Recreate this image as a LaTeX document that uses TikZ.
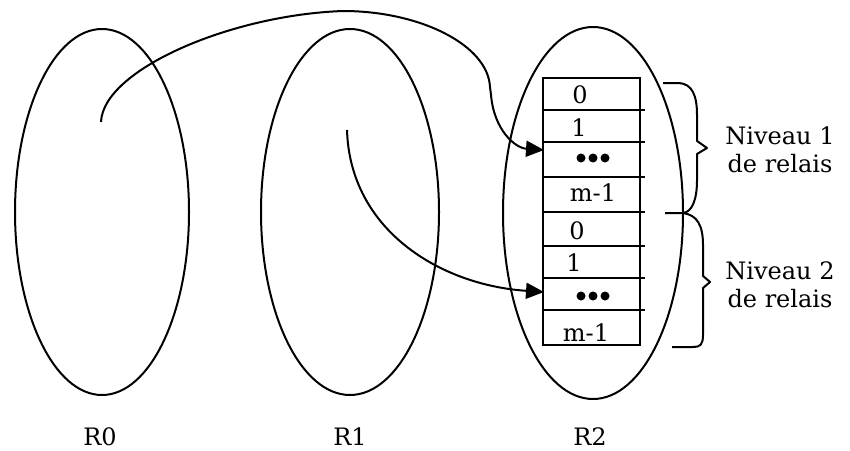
\documentclass[tikz,border=0pt]{standalone}
\usepackage{fontspec}
\setmainfont{DejaVu Serif}
\usetikzlibrary{arrows.meta,shapes.geometric}
\begin{document}
\begin{tikzpicture}[x=1pt,y=-1pt,
  every node/.style={font=\fontsize{24}{28}\selectfont, inner sep=0pt},
  ring/.style={draw, ellipse, line width=2pt, inner sep=0pt},
  tab/.style={line width=2.4pt},
  conn/.style={line width=2pt, line join=round, -{Triangle[length=18pt,width=16pt]}},
  brace/.style={line width=2pt, line join=round},
  dot/.style={fill=black, circle, minimum size=9pt, inner sep=0pt}]
\useasboundingbox (0,0) rectangle (850,450);
% rings
\node[ring, minimum width=174pt, minimum height=366pt] (R0) at (102,212) {};
\node[ring, minimum width=178pt, minimum height=366pt] (R1) at (350,212) {};
\node[ring, minimum width=180pt, minimum height=372pt] (R2) at (593,213) {};
\node (L0) at (100,437) {R0};
\node (L1) at (350,437) {R1};
\node (L2) at (590,437) {R2};
% table
\draw[tab] (543,78) rectangle (640,345);
\foreach \yy in {110,142,177,212,246,278,310}
  \draw[tab] (543,\yy) -- (645,\yy);
\node (a0) at (580,95) {0};
\node (a1) at (579,128) {1};
\node[dot] (a2a) at (581,158) {};
\node[dot] (a2b) at (593,158) {};
\node[dot] (a2c) at (605,158) {};
\node (a3) at (593,193) {m-1};
\node (b0) at (577,231) {0};
\node (b1) at (574,263) {1};
\node[dot] (b2a) at (581,296) {};
\node[dot] (b2b) at (593,296) {};
\node[dot] (b2c) at (605,296) {};
\node (b3) at (586,333) {m-1};
% connectors
\coordinate (s1) at (101,122);
\coordinate (p1) at (343,11);
\coordinate (k1) at (490,87);
\coordinate (k2) at (491,95);
\coordinate (t1) at (544,150);
\coordinate (s2) at (347,130);
\coordinate (t2) at (544,292);
\draw[conn] (s1) .. controls (103,70) and (230,15) .. (p1)
  .. controls (420,11) and (488,45) .. (k1) -- (k2)
  .. controls (494,130) and (515,148) .. (t1);
\draw[conn] (s2) .. controls (350,230) and (440,285) .. (t2);
% braces
\draw[brace] (663,83) -- (679,83) .. controls (692,84) and (697,95) .. (697,115)
  -- (697,141) -- (707,148) -- (697,154) -- (697,180)
  .. controls (697,200) and (692,212) .. (683,213) -- (665,213);
\draw[brace] (683,213) .. controls (697,215) and (703,225) .. (703,245)
  -- (703,276) -- (710,282) -- (703,288) -- (703,335)
  .. controls (703,345) and (700,347) .. (693,347) -- (672,347);
\node[align=center] (n1) at (780,150) {Niveau 1\\de relais};
\node[align=center] (n2) at (780,285) {Niveau 2\\de relais};
\end{tikzpicture}
\end{document}
